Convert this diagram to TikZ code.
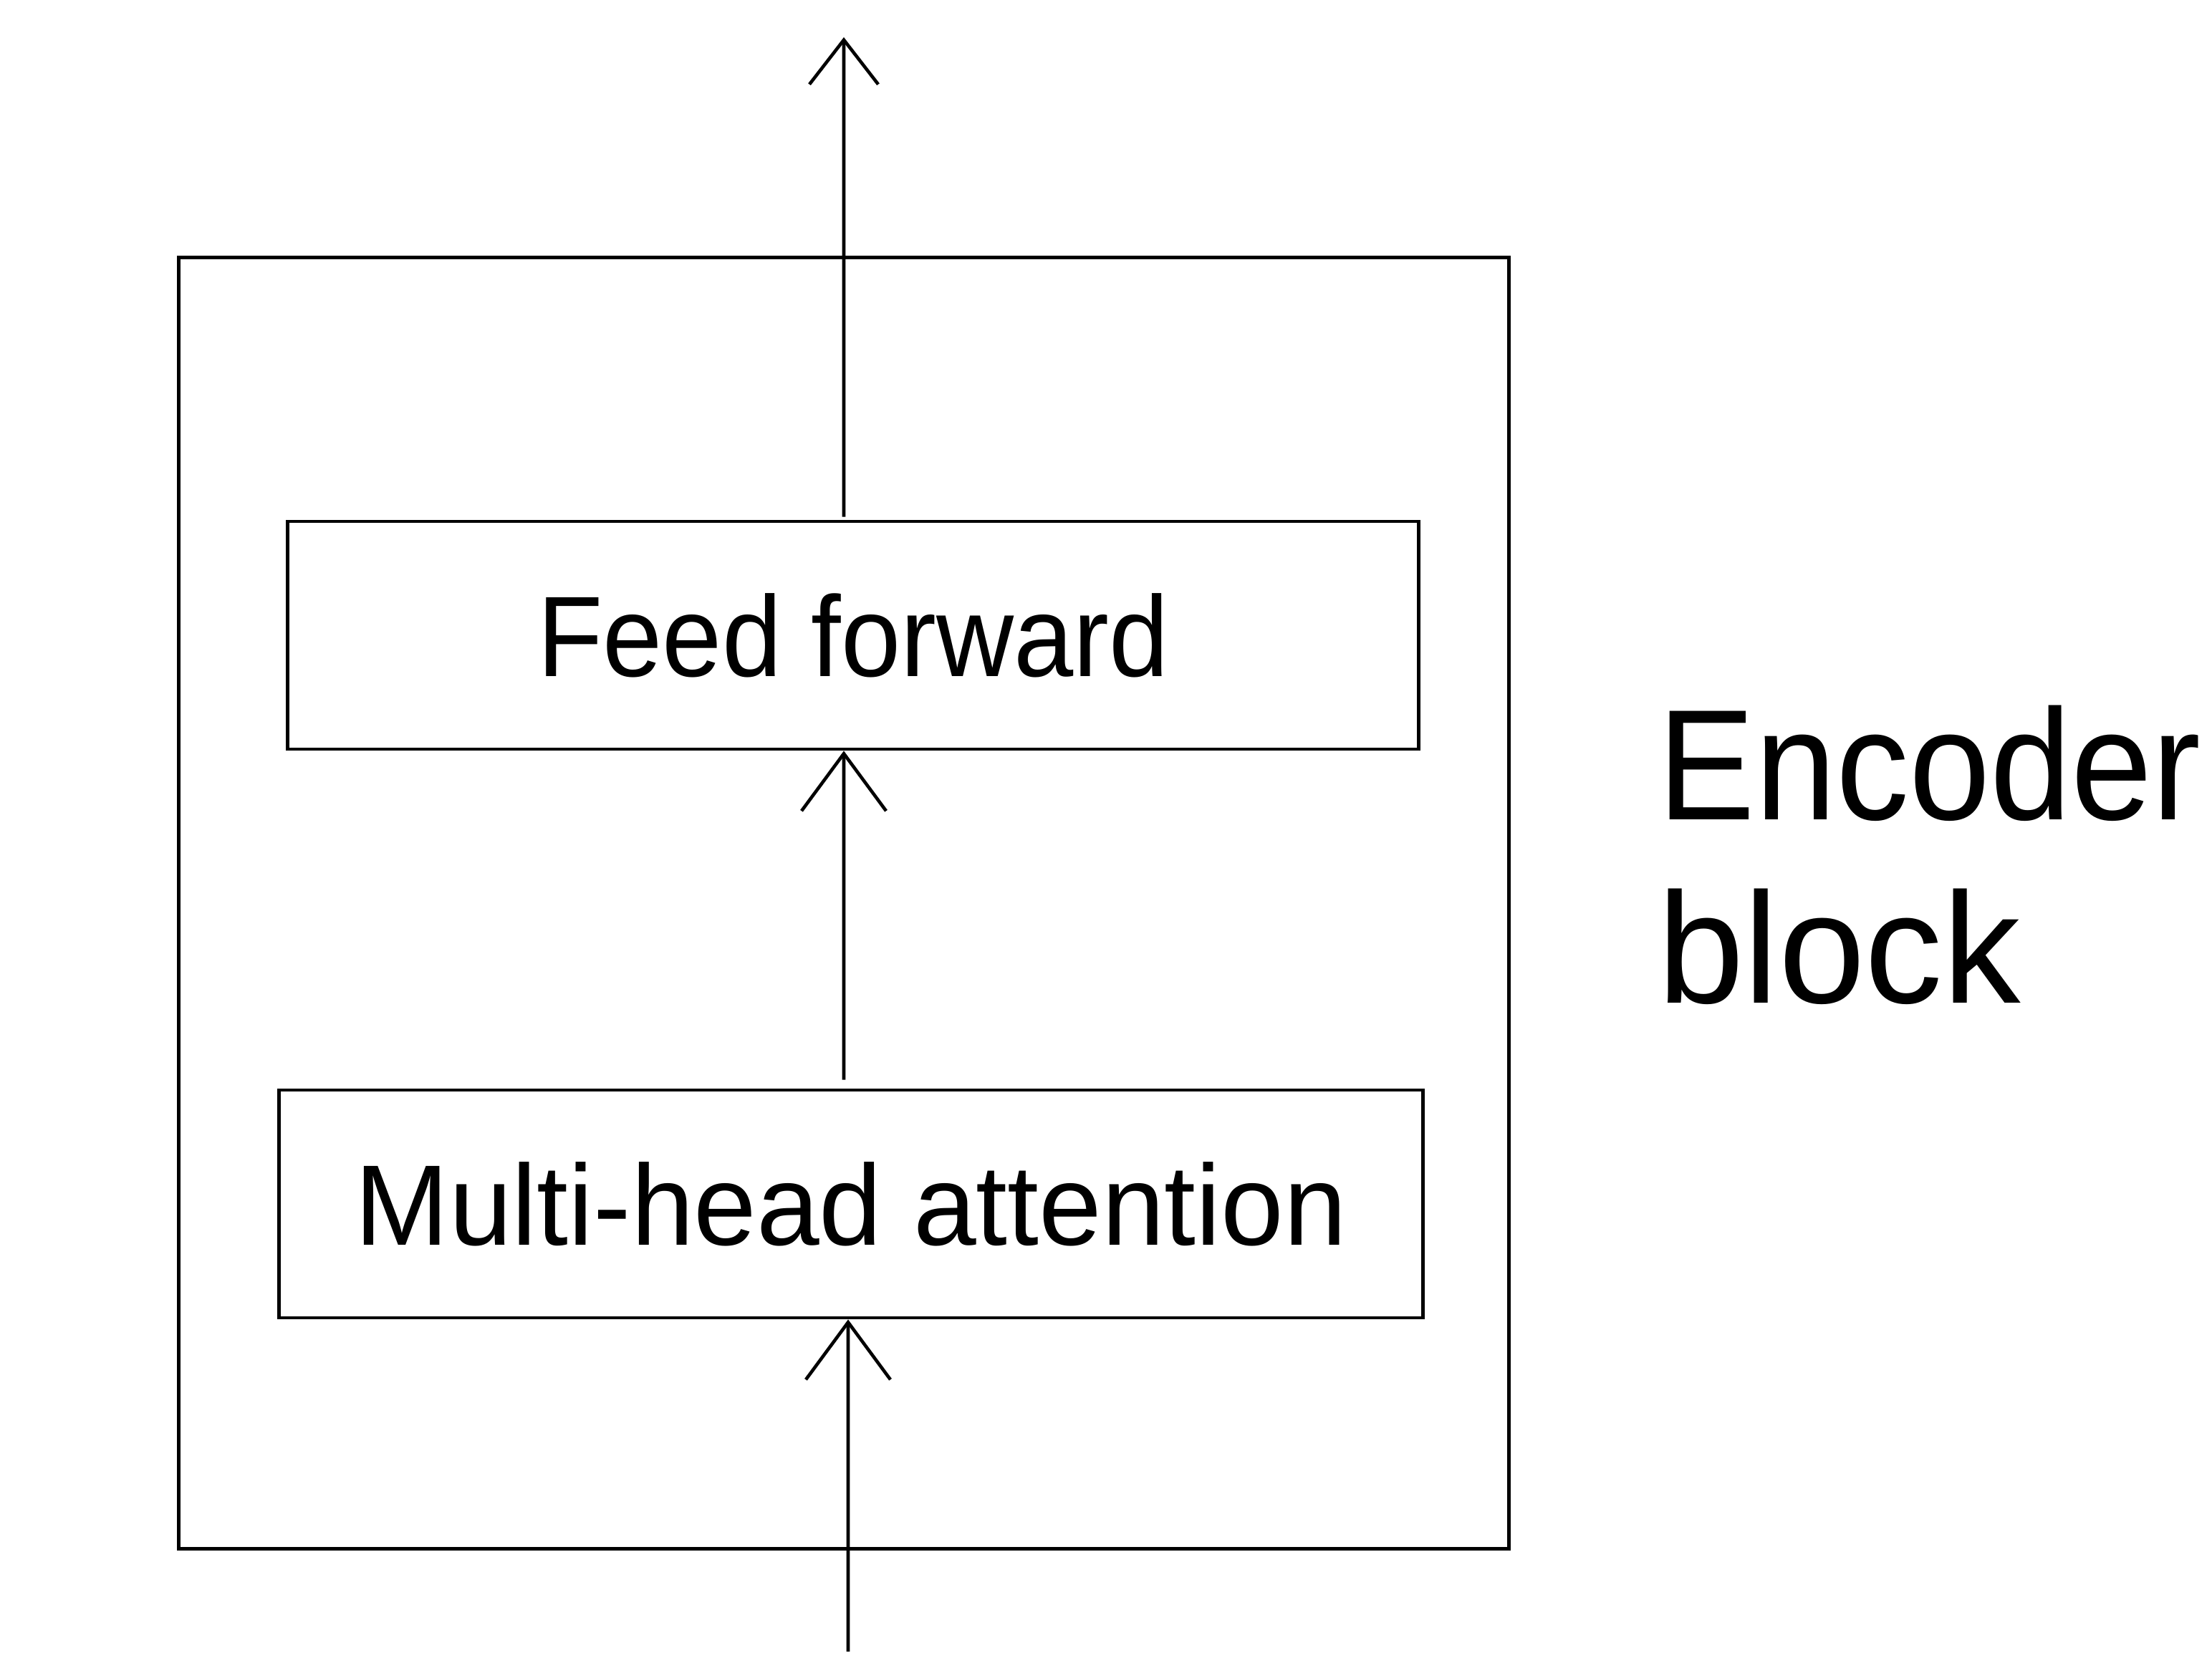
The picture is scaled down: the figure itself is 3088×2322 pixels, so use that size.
\documentclass[tikz,border=0pt]{standalone}
\usepackage{fontspec}
\setmainfont{Liberation Sans}
\newfontfamily\fffont[FakeStretch=0.935]{Liberation Sans}
\newfontfamily\mhafont[FakeStretch=0.985]{Liberation Sans}
\newfontfamily\encfont[FakeStretch=0.925]{Liberation Sans}
\newfontfamily\blkfont[FakeStretch=0.985]{Liberation Sans}
\usetikzlibrary{arrows.meta}
\begin{document}
\begin{tikzpicture}[x=0.01cm,y=-0.01cm,line width=1.3pt,
  boxnode/.style={draw, rectangle, inner sep=0pt, minimum height=3.18cm},
  boxfont/.style={font=\fontsize{45.5pt}{55pt}\selectfont},
  arrbig/.style={-{Straight Barb[length=0.8cm,width=1.18cm]}},
  arrsmall/.style={-{Straight Barb[length=0.62cm,width=0.96cm]}}]
\useasboundingbox (0,0) rectangle (3088,2322);
\node[draw, rectangle, inner sep=0pt, minimum width=18.56cm, minimum height=18.02cm] (enc) at (1178,1261) {};
\node[boxnode, boxfont, minimum width=15.78cm] (ff) at (1191,887) {\fffont Feed forward};
\node[boxnode, boxfont, minimum width=15.96cm] (mha) at (1188,1681) {\mhafont Multi-head attention};
\node[anchor=base west, inner sep=0pt, font=\fontsize{62.6pt}{72.8pt}\selectfont] (lbl) at (2312,1144)
  {\begin{tabular}[t]{@{}l@{}}\encfont Encoder\\\blkfont block\end{tabular}};
\coordinate (topend) at (1178,52);
\coordinate (botstart) at (1184,2306);
\draw[arrsmall] ([xshift=-0.13cm,yshift=0.04cm]ff.north) -- (topend);
\draw[arrbig] ([xshift=-0.10cm,yshift=0.12cm]mha.north) -- ([xshift=-0.13cm]ff.south);
\draw[arrbig] (botstart) -- ([xshift=-0.04cm]mha.south);
\end{tikzpicture}
\end{document}
